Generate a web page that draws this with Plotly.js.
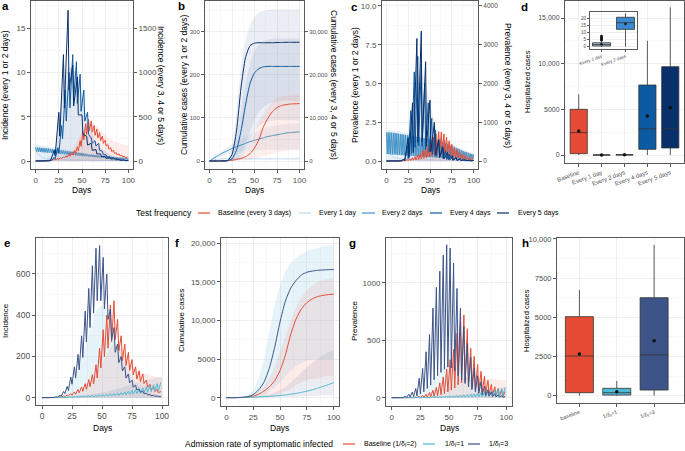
<!DOCTYPE html>
<html><head><meta charset="utf-8">
<script src="https://cdn.plot.ly/plotly-3.0.1.min.js"></script>
<style>html,body{margin:0;padding:0;background:#fff}#chart{width:685px;height:451px}</style>
</head><body><div id="chart"></div>
<script>
// ================= DATA =================
const testNames = ['Baseline (every 3 days)','Every 1 day','Every 2 days','Every 4 days','Every 5 days'];
const admNames = ['Baseline (1/δ<sub>I</sub>=2)','1/δ<sub>I</sub>=1','1/δ<sub>I</sub>=3'];
const xTicks = [0,25,50,75,100];

// ---- Panel a: incidence (every 1/2 days on left axis, 3/4/5 days on right axis) ----
const aDays1 = [0,2,4,6,8,10,15,20,30,40,50,60,70,80,90,100];
const aInc1 = [1.15,0.9,0.65,0.48,0.36,0.28,0.2,0.16,0.12,0.1,0.09,0.08,0.07,0.06,0.05,0.05];
const aInc2Peaks = [1.55,1.53,1.51,1.49,1.47,1.45,1.42,1.40,1.37,1.35,1.32,1.29,1.27,1.24,1.21,1.18,1.15,1.12,1.09,1.06,1.03,1.00,0.97,0.94,0.91,0.88,0.85,0.82,0.79,0.76,0.73,0.70,0.68,0.65,0.62,0.60,0.57,0.55,0.53,0.51,0.49,0.47,0.45,0.43,0.42,0.40,0.39,0.38,0.37,0.36,0.35];
const aInc2Troughs = [1.05,1.03,1.02,1.00,0.98,0.96,0.94,0.92,0.90,0.88,0.86,0.84,0.82,0.80,0.78,0.76,0.74,0.72,0.70,0.68,0.66,0.64,0.62,0.60,0.58,0.56,0.54,0.52,0.50,0.48,0.46,0.44,0.42,0.40,0.38,0.37,0.35,0.34,0.32,0.31,0.30,0.29,0.28,0.27,0.26,0.25,0.24,0.23,0.22,0.21];
const aIncBasePeaks = [0,0,1,2,4,8,14,22,30,38,48,60,75,95,120,160,230,330,420,470,450,400,360,320,280,235,185,150,120,95,80,65,52,45];
const aIncBaseTroughs = [0,0,1,1,3,6,10,16,22,27,35,43,54,68,86,115,165,240,300,340,325,290,260,230,200,170,133,108,86,68,58,47,37];
const aInc4Peaks = [0,0,0,2,10,40,150,400,800,1000,1200,1120,980,800,550,260,230,200,110,70,50,40,30,20,15,10];
const aInc4Troughs = [0,0,0,1,6,25,90,250,450,600,700,650,560,450,300,200,170,120,70,45,32,25,18,12,8];
const aInc5Peaks = [0,0,0,5,120,550,1200,1700,1080,950,520,280,200,130,80,50,35,25,15,10,5];
const aInc5Troughs = [0,0,0,3,60,280,600,800,620,520,300,180,120,80,50,30,22,15,8,5];
const aRibDays = [0,10,20,25,30,35,40,45,50,55,60,65,70,80,90,100];
const aRibDarkHi = [0,0,100,450,850,1050,1050,950,750,500,330,220,150,80,40,20];
const aRibRedHi = [0,0,10,20,40,70,130,220,330,420,440,400,340,250,200,170];
const aRibLightHi = [1.9,1.7,1.55,1.45,1.35,1.25,1.15,1.05,0.95,0.85,0.75,0.7,0.65,0.55,0.45,0.4];

// ---- Panel b: cumulative cases ----
const bDays = [0,5,10,15,20,25,30,35,40,45,50,55,60,65,70,75,80,85,90,95,100];
const bCum1 = [0,3,4.5,5,5,5,5,5,5,5,5,5,5,5,5,5,5,5,5,5,5];
const bCum2 = [0,7,13,19,24,29,33,37,41,45,48,51,54,57,59,61,63,65,66,67,68];
const bCumBase = [0,0,10,40,100,200,350,600,1000,1700,3000,5000,8000,10000,11500,12400,12900,13100,13250,13300,13350];
const bCum4 = [0,0,0,10,60,500,2500,7000,13000,18000,20500,21500,21900,22000,22000,22000,22000,22000,22000,22000,22000];
const bCum5 = [0,0,0,10,80,1500,7000,17000,24000,26800,27400,27500,27500,27500,27500,27550,27550,27600,27600,27600,27600];
const bRib5Hi = [0,0,0,50,400,3000,12000,22000,28000,31500,33500,34500,34900,35100,35200,35200,35200,35200,35200,35200,35200];
const bRib5Lo = [0,0,0,0,0,0,200,1500,4000,7000,9500,11500,12500,13200,13600,13800,13900,14000,14000,14000,14000];
const bRib4Hi = [0,0,0,30,200,1500,6000,12000,18000,22500,25500,27000,27800,28200,28400,28500,28500,28500,28500,28500,28500];
const bRib4Lo = [0,0,0,0,0,0,100,800,2500,5000,7000,8200,8900,9200,9400,9500,9500,9500,9500,9500,9500];
const bRibBaseHi = [0,0,20,80,200,400,700,1300,2500,4200,6500,9000,11000,12500,13800,14600,15000,15200,15400,15500,15500];
const bRibBaseLo = [0,0,0,0,0,20,60,120,200,350,550,800,1100,1400,1700,2000,2200,2400,2500,2600,2700];
const bRib2Hi = [0,10,18,26,33,40,46,52,57,62,67,71,75,78,81,83,85,86,87,88,88];
const bRib2Lo = [0,4,8,12,15,18,20,22,23,24,25,25,26,26,26,26,26,26,26,26,26];

// ---- Panel c: prevalence ----
const cDays1 = [0,2,4,6,8,10,15,20,30,40,60,80,100];
const cPrev1 = [0.9,0.7,0.5,0.35,0.25,0.2,0.15,0.12,0.1,0.08,0.06,0.05,0.04];
const cPrev2Peaks = [1.85,1.85,1.84,1.83,1.82,1.80,1.78,1.76,1.74,1.72,1.70,1.68,1.66,1.64,1.62,1.60,1.58,1.56,1.54,1.52,1.50,1.48,1.46,1.44,1.42,1.40,1.38,1.36,1.34,1.32,1.30,1.26,1.22,1.18,1.14,1.10,1.05,1.00,0.95,0.90,0.85,0.80,0.75,0.70,0.65,0.60,0.57,0.53,0.49,0.45,0.42];
const cPrev2Troughs = [0.45,0.44,0.43,0.42,0.42,0.41,0.40,0.39,0.38,0.37,0.36,0.35,0.35,0.34,0.33,0.32,0.31,0.30,0.30,0.29,0.28,0.27,0.27,0.26,0.25,0.24,0.24,0.23,0.22,0.22,0.21,0.20,0.20,0.19,0.18,0.18,0.17,0.16,0.16,0.15,0.15,0.14,0.14,0.13,0.13,0.12,0.12,0.11,0.11,0.10];
const cPrevBasePeaks = [0,0,0,0,2,5,10,20,35,55,80,110,150,200,260,330,420,520,620,700,760,750,700,620,520,430,350,280,220,170,130,100,75,55];
const cPrevBaseTroughs = [0,0,0,0,1,1,3,5,9,14,20,28,38,50,65,83,105,130,155,175,190,188,175,155,130,108,88,70,55,43,33,25,19];
const cPrev4Peaks = [0,0,0,0,5,40,400,1300,2300,2700,2500,2000,1500,1100,800,550,380,260,180,120,80,55,35,25,15,10];
const cPrev4Troughs = [0,0,0,0,1,8,60,200,350,400,380,300,230,170,120,85,60,40,28,18,12,8,5,4,2];
const cPrev5Peaks = [0,0,0,5,40,600,1500,3160,3350,2560,1570,1000,550,350,220,140,90,60,40,25,15];
const cPrev5Troughs = [0,0,0,1,8,90,220,480,500,380,240,150,90,55,35,22,14,9,6,4];
const cRibDays = [0,10,20,25,30,35,40,45,50,55,60,70,80,90,100];
const cRibDarkHi = [0,0,50,400,1200,2000,2300,2000,1500,1000,700,350,180,90,50];
const cRibRedHi = [0,0,10,30,60,110,180,270,380,480,550,500,350,220,130];
const cRibLightHi = [2.0,1.95,1.85,1.8,1.75,1.7,1.65,1.6,1.55,1.5,1.45,1.25,0.95,0.7,0.5];

// ---- Panel d: hospitalized cases by test frequency ----
const dCats = ['Baseline','Every 1 day','Every 2 days','Every 4 days','Every 5 days'];
const dQ1 = [150,0,12,620,770];
const dMed = [2450,1,17,2880,2920];
const dQ3 = [5000,3,21,7660,9670];
const dLo = [0,0,0,0,0];
const dHi = [6650,5,24,12500,16170];
const dMean = [2630,2,16,4270,5180];
const dInCats = ['Every 1 day','Every 2 days'];
const dInQ1 = [0.5,12.2];
const dInMed = [1.5,16.9];
const dInQ3 = [2.8,20.7];
const dInLo = [0,0];
const dInHi = [4,23.5];
const dInMean = [1.8,16];
const dInOutliers = [4.6,5.2,5.8,6.4,7.0,7.5];

// ---- Panel e: incidence by admission rate ----
const eIncNavyPeaks = [0,0,1,2,5,12,30,55,100,150,210,300,420,530,640,725,738,680,600,430,340,260,200,150,115,85,60,42,30,22,15,11,8,6];
const eIncNavyTroughs = [0,0,1,1,3,8,20,35,65,95,135,195,270,340,410,470,470,430,380,280,220,170,130,95,72,52,38,27,19,14,10,7,5];
const eIncRedPeaks = [0,0,0,1,2,4,8,13,20,28,40,52,68,88,112,160,240,330,400,450,470,380,300,260,220,185,150,130,115,85,65,50,40,30];
const eIncRedTroughs = [0,0,0,1,1,2,5,8,12,17,24,31,41,53,67,96,144,198,240,270,282,228,180,156,132,111,90,78,69,51,39,30,24];
const eIncTealPeaks = [0,0,1,1,2,2,3,3,4,5,6,7,8,9,10,11,13,14,16,18,20,22,25,28,31,35,39,43,48,53,58,63,68,73];
const eIncTealTroughs = [0,0,0,1,1,1,2,2,2,3,3,4,4,5,5,6,7,7,8,9,10,11,13,14,16,18,20,22,24,27,29,32,35];
const eRibDays = [0,10,15,20,25,30,35,40,45,50,55,60,65,70,75,80,90,100];
const eRibNavyHi = [0,2,10,30,70,130,220,330,420,450,400,300,230,160,100,60,25,10];
const eRibRedHi = [0,0,2,5,10,20,40,70,110,160,220,260,240,200,160,130,110,95];
const eRibTealHi = [0,1,2,4,6,9,12,15,20,25,30,38,45,55,65,75,90,100];

// ---- Panel f: cumulative cases by admission rate ----
const fDays = [0,5,10,15,20,25,30,35,40,45,50,55,60,65,70,75,80,85,90,95,100];
const fCumNavy = [0,5,20,60,150,400,1000,2000,3800,6500,9800,12500,14200,15200,15900,16250,16400,16500,16550,16580,16600];
const fCumRed = [0,2,8,30,80,200,450,850,1400,2200,3500,5500,8200,10200,11500,12300,12800,13100,13250,13350,13400];
const fCumTeal = [0,5,15,30,50,75,105,140,180,230,290,360,450,560,690,840,1020,1220,1450,1690,1950];
const fRibNavyHi = [0,10,40,120,300,1000,2500,5000,8500,12000,14500,16300,17400,18100,18600,19000,19200,19400,19600,19700,19750];
const fRibNavyLo = [0,0,0,0,0,20,100,300,800,1400,2000,2800,3500,4100,4500,4800,4900,5000,5000,5000,5000];
const fRibRedHi = [0,0,5,20,60,300,800,1500,2500,4000,6000,8000,10000,11700,13000,13900,14500,15000,15200,15400,15500];
const fRibRedLo = [0,0,0,0,0,0,10,50,100,250,500,800,1200,1600,2000,2300,2500,2600,2700,2800,2800];
const fRibTealHi = [0,0,5,15,40,100,200,300,400,600,1000,1400,2000,2600,3300,3900,4500,5000,5500,5900,6200];
const fRibTealLo = [0,0,0,0,0,0,0,10,20,40,60,80,100,130,160,190,220,250,270,290,300];

// ---- Panel g: prevalence by admission rate ----
const gPrevNavyPeaks = [0,0,2,6,15,30,50,80,170,255,400,550,780,960,1100,1240,1330,1300,1170,950,780,620,470,350,260,190,140,100,70,50,35,25,18,12];
const gPrevNavyTroughs = [0,0,0,1,3,6,10,16,34,51,80,110,156,192,220,248,266,260,234,190,156,124,94,70,52,38,28,20,14,10,7,5,4];
const gPrevRedPeaks = [0,0,0,0,1,2,4,7,12,20,30,45,65,90,130,180,250,330,420,560,650,720,600,430,360,290,230,185,150,115,95,80,62,52];
const gPrevRedTroughs = [0,0,0,0,0,0,1,1,2,4,6,9,13,18,26,36,50,66,84,112,130,144,120,86,72,58,46,37,30,23,19,16,12];
const gPrevTealPeaks = [0,0,0,1,1,2,2,3,3,4,5,6,7,8,9,10,12,13,15,17,19,22,25,28,32,36,41,46,52,58,65,72,80,88];
const gPrevTealTroughs = [0,0,0,0,0,0,1,1,1,1,1,1,2,2,2,2,3,3,3,4,4,5,5,6,7,8,9,10,11,13,14,16,18];
const gRibDays = [0,10,20,25,30,35,40,45,50,55,60,65,70,75,80,85,90,95,100];
const gRibNavyHi = [0,2,20,50,90,140,200,260,300,290,250,190,140,100,60,40,25,15,10];
const gRibRedHi = [0,0,2,5,10,20,35,60,90,130,160,180,180,175,170,165,160,155,150];
const gRibTealHi = [0,1,3,5,7,9,12,15,18,22,27,33,40,48,56,65,75,85,95];

// ---- Panel h: hospitalized cases by admission rate ----
const hCats = ['baseline','1/δ<sub>I</sub>=1','1/δ<sub>I</sub>=3'];
const hQ1 = [190,40,360];
const hMed = [2530,190,2600];
const hQ3 = [5040,470,6250];
const hLo = [0,0,0];
const hHi = [6740,940,9620];
const hMean = [2660,250,3510];

// ================= STYLE =================
const W = 685, H = 451;
const FONT = 'Liberation Sans, Arial, Helvetica, sans-serif';
const testColors = ['#E64B35','#BCD6EE','#4292C6','#0B5AA2','#08306B'];
const admColors = ['#E64B35','#4DBBD5','#3C5488'];
const boxColorsD = ['#E64B35','#A9BFD8','#3A8AD0','#0B5AA2','#08306B'];
const GRID = '#EBEBEB', MINOR = '#F4F4F4', FRAME = '#595959';

// ================= HELPERS =================
function saw(period, peaks, troughs) {
  const x = [], y = [];
  peaks.forEach((p, i) => {
    x.push(i * period); y.push(p);
    if (i < troughs.length) { x.push(i * period + 1); y.push(troughs[i]); }
  });
  return {x, y};
}
function line(x, y, color, xa, ya, shape) {
  return {type:'scatter', mode:'lines', x, y, xaxis:xa, yaxis:ya,
    line:{color, width:1, shape: shape || 'linear', smoothing:0.6}, showlegend:false, hoverinfo:'skip'};
}
function sawLine(period, peaks, troughs, color, xa, ya) {
  const s = saw(period, peaks, troughs);
  return line(s.x, s.y, color, xa, ya);
}
function band(x, lo, hi, color, xa, ya) {
  const t = [];
  if (lo) t.push({type:'scatter', mode:'lines', x, y:lo, xaxis:xa, yaxis:ya, line:{width:0, color, shape:'spline', smoothing:0.6}, showlegend:false, hoverinfo:'skip'});
  t.push({type:'scatter', mode:'lines', x, y:hi, xaxis:xa, yaxis:ya, line:{width:0, color, shape:'spline', smoothing:0.6},
    fill: lo ? 'tonexty' : 'tozeroy', fillcolor: color, showlegend:false, hoverinfo:'skip'});
  return t;
}
function box(cat, q1, med, q3, lo, hi, fill, xa, ya) {
  return {type:'box', x:[cat], q1:[q1], median:[med], q3:[q3], lowerfence:[lo], upperfence:[hi],
    xaxis:xa, yaxis:ya, fillcolor:fill, line:{color:'#333333', width:0.8}, whiskerwidth:0, width:0.75,
    boxpoints:false, showlegend:false, hoverinfo:'skip'};
}
function dots(x, y, xa, ya, size) {
  return {type:'scatter', mode:'markers', x, y, xaxis:xa, yaxis:ya, marker:{color:'#111', size: size || 3}, showlegend:false, hoverinfo:'skip'};
}

// ================= TRACES =================
const tr = [];
// Panel a
tr.push(...band(aRibDays, null, aRibLightHi, 'rgba(120,170,220,0.18)', 'x', 'y'));
tr.push(line(aDays1, aInc1, testColors[1], 'x', 'y', 'spline'));
tr.push(sawLine(2, aInc2Peaks, aInc2Troughs, testColors[2], 'x', 'y'));
tr.push(...band(aRibDays, null, aRibDarkHi, 'rgba(110,140,185,0.2)', 'x', 'y2'));
tr.push(...band(aRibDays, null, aRibRedHi, 'rgba(240,120,100,0.14)', 'x', 'y2'));
tr.push(sawLine(3, aIncBasePeaks, aIncBaseTroughs, testColors[0], 'x', 'y2'));
tr.push(sawLine(4, aInc4Peaks, aInc4Troughs, testColors[3], 'x', 'y2'));
tr.push(sawLine(5, aInc5Peaks, aInc5Troughs, testColors[4], 'x', 'y2'));
// Panel b
tr.push(...band(bDays, bRib2Lo, bRib2Hi, 'rgba(120,150,200,0.12)', 'x2', 'y3'));
tr.push(line(bDays, bCum1, testColors[1], 'x2', 'y3', 'spline'));
tr.push(line(bDays, bCum2, testColors[2], 'x2', 'y3', 'spline'));
tr.push(...band(bDays, bRib5Lo, bRib5Hi, 'rgba(110,135,175,0.14)', 'x2', 'y4'));
tr.push(...band(bDays, bRib4Lo, bRib4Hi, 'rgba(110,135,175,0.14)', 'x2', 'y4'));
tr.push(...band(bDays, bRibBaseLo, bRibBaseHi, 'rgba(240,130,110,0.13)', 'x2', 'y4'));
tr.push(line(bDays, bCumBase, testColors[0], 'x2', 'y4', 'spline'));
tr.push(line(bDays, bCum4, testColors[3], 'x2', 'y4', 'spline'));
tr.push(line(bDays, bCum5, testColors[4], 'x2', 'y4', 'spline'));
// Panel c
tr.push(...band(cRibDays, null, cRibLightHi, 'rgba(120,170,220,0.16)', 'x3', 'y5'));
tr.push(line(cDays1, cPrev1, testColors[1], 'x3', 'y5', 'spline'));
tr.push(sawLine(2, cPrev2Peaks, cPrev2Troughs, testColors[2], 'x3', 'y5'));
tr.push(...band(cRibDays, null, cRibDarkHi, 'rgba(110,140,185,0.15)', 'x3', 'y6'));
tr.push(...band(cRibDays, null, cRibRedHi, 'rgba(240,120,100,0.14)', 'x3', 'y6'));
tr.push(sawLine(3, cPrevBasePeaks, cPrevBaseTroughs, testColors[0], 'x3', 'y6'));
tr.push(sawLine(4, cPrev4Peaks, cPrev4Troughs, testColors[3], 'x3', 'y6'));
tr.push(sawLine(5, cPrev5Peaks, cPrev5Troughs, testColors[4], 'x3', 'y6'));
// Panel d
dCats.forEach((c, i) => tr.push(box(c, dQ1[i], dMed[i], dQ3[i], dLo[i], dHi[i], boxColorsD[i], 'x4', 'y7')));
tr.push(dots(dCats, dMean, 'x4', 'y7', 3.5));
// Panel d inset
dInCats.forEach((c, i) => tr.push(box(c, dInQ1[i], dInMed[i], dInQ3[i], dInLo[i], dInHi[i], boxColorsD[i + 1], 'x5', 'y8')));
tr.push(dots(dInOutliers.map(() => dInCats[0]), dInOutliers, 'x5', 'y8', 2.5));
tr.push(dots(dInCats, dInMean, 'x5', 'y8', 2.5));
// Panel e
tr.push(...band(eRibDays, null, eRibNavyHi, 'rgba(140,205,230,0.22)', 'x6', 'y9'));
tr.push(...band(eRibDays, null, eRibRedHi, 'rgba(235,130,115,0.15)', 'x6', 'y9'));
tr.push(...band(eRibDays, null, eRibTealHi, 'rgba(90,110,160,0.12)', 'x6', 'y9'));
tr.push(sawLine(3, eIncRedPeaks, eIncRedTroughs, admColors[0], 'x6', 'y9'));
tr.push(sawLine(3, eIncTealPeaks, eIncTealTroughs, admColors[1], 'x6', 'y9'));
tr.push(sawLine(3, eIncNavyPeaks, eIncNavyTroughs, admColors[2], 'x6', 'y9'));
// Panel f
tr.push(...band(fDays, fRibNavyLo, fRibNavyHi, 'rgba(140,205,230,0.22)', 'x7', 'y10'));
tr.push(...band(fDays, fRibRedLo, fRibRedHi, 'rgba(235,130,115,0.15)', 'x7', 'y10'));
tr.push(...band(fDays, fRibTealLo, fRibTealHi, 'rgba(90,110,160,0.12)', 'x7', 'y10'));
tr.push(line(fDays, fCumRed, admColors[0], 'x7', 'y10', 'spline'));
tr.push(line(fDays, fCumTeal, admColors[1], 'x7', 'y10', 'spline'));
tr.push(line(fDays, fCumNavy, admColors[2], 'x7', 'y10', 'spline'));
// Panel g
tr.push(...band(gRibDays, null, gRibNavyHi, 'rgba(140,205,230,0.2)', 'x8', 'y11'));
tr.push(...band(gRibDays, null, gRibRedHi, 'rgba(235,130,115,0.15)', 'x8', 'y11'));
tr.push(...band(gRibDays, null, gRibTealHi, 'rgba(90,110,160,0.12)', 'x8', 'y11'));
tr.push(sawLine(3, gPrevRedPeaks, gPrevRedTroughs, admColors[0], 'x8', 'y11'));
tr.push(sawLine(3, gPrevTealPeaks, gPrevTealTroughs, admColors[1], 'x8', 'y11'));
tr.push(sawLine(3, gPrevNavyPeaks, gPrevNavyTroughs, admColors[2], 'x8', 'y11'));
// Panel h
hCats.forEach((c, i) => tr.push(box(c, hQ1[i], hMed[i], hQ3[i], hLo[i], hHi[i], admColors[i], 'x9', 'y12')));
tr.push(dots(hCats, hMean, 'x9', 'y12', 3.5));

// ================= LAYOUT =================
function tf(size) { return {family:FONT, size, color:'#4D4D4D'}; }
const base = {showgrid:true, gridcolor:GRID, gridwidth:0.8, zeroline:false, showline:true, mirror:true,
  linecolor:FRAME, linewidth:1, ticks:'outside', ticklen:3, tickwidth:0.8, tickcolor:'#333', fixedrange:true};
function xLine(p0, p1, anchor, fs) {
  return Object.assign({}, base, {domain:[p0 / W, p1 / W], anchor, range:[-5, 105], tickmode:'array', tickvals:xTicks,
    minor:{tickmode:'array', tickvals:[12.5,37.5,62.5,87.5], showgrid:true, gridcolor:MINOR, gridwidth:0.6, ticks:''},
    tickfont:tf(fs || 8)});
}
function yAx(top, bottom, anchor, range, dtick, fs, extra) {
  return Object.assign({}, base, {domain:[1 - bottom / H, 1 - top / H], anchor, range, tickmode:'linear', tick0:0, dtick,
    minor:{tick0:0, dtick:dtick / 2, showgrid:true, gridcolor:MINOR, gridwidth:0.6, ticks:''},
    tickfont:tf(fs || 8)}, extra || {});
}
function yRight(over, anchor, range, dtick, fs, extra) {
  return Object.assign({overlaying:over, side:'right', anchor, range, tickmode:'linear', tick0:0, dtick,
    showgrid:false, zeroline:false, showline:false, ticks:'outside', ticklen:3, tickwidth:0.8, tickcolor:'#333',
    tickfont:tf(fs || 8), fixedrange:true}, extra || {});
}
function xCat(p0, p1, anchor, cats, range, fs, angle) {
  return Object.assign({}, base, {domain:[p0 / W, p1 / W], anchor, type:'category', categoryorder:'array',
    categoryarray:cats, range, tickangle:angle, tickfont:tf(fs)});
}

const layout = {
  width:W, height:H, margin:{l:0, r:0, t:0, b:0}, paper_bgcolor:'#fff', plot_bgcolor:'#fff',
  font:{family:FONT, color:'#000'}, showlegend:false, boxmode:'overlay',
  // a
  xaxis: xLine(31, 133, 'y', 8),
  yaxis: yAx(1, 169, 'x', [-0.9, 18.05], 5, 8),
  yaxis2: yRight('y', 'x', [-90, 1805], 500, 8),
  // b
  xaxis2: xLine(205, 304, 'y3', 8),
  yaxis3: yAx(1, 169, 'x2', [-18.6, 372], 100, 6),
  yaxis4: yRight('y3', 'x2', [-1860, 37200], 10000, 6, {tickformat:','}),
  // c
  xaxis3: xLine(382, 478, 'y5', 8),
  yaxis5: yAx(1, 169, 'x3', [-0.516, 10.32], 2.5, 8, {tickformat:'.1f'}),
  yaxis6: yRight('y5', 'x3', [-206.4, 4128], 1000, 6.5),
  // d
  xaxis4: xCat(565, 684, 'y7', dCats, [-0.6, 4.6], 6, -20),
  yaxis7: yAx(1, 163, 'x4', [-876, 16862], 5000, 7, {tickformat:',', labelalias:{'5,000':'5000'}}),
  // d inset
  xaxis5: Object.assign(xCat(590, 637, 'y8', dInCats, [-0.48, 1.48], 4.5, -20), {ticklen:2}),
  yaxis8: yAx(12, 49, 'x5', [-1.6, 24.4], 5, 4.5, {ticklen:2}),
  // e
  xaxis6: xLine(36, 168, 'y9', 8.5),
  yaxis9: yAx(238, 405, 'x6', [-35.4, 774.5], 200, 8.5),
  // f
  xaxis7: xLine(221, 339, 'y10', 8),
  yaxis10: yAx(238, 406, 'x7', [-1075, 20687], 5000, 8, {tickformat:',', labelalias:{'5,000':'5000'}}),
  // g
  xaxis8: xLine(386, 512, 'y11', 8),
  yaxis11: yAx(238, 406, 'x8', [-72, 1389], 500, 8),
  // h
  xaxis9: xCat(557, 684, 'y12', hCats, [-0.6, 2.8], 5.5, -20),
  yaxis12: yAx(238, 403, 'x9', [-466, 10057], 2500, 7.5, {tickformat:',', labelalias:{'2,500':'2500','5,000':'5000','7,500':'7500'}}),
  shapes: [],
  annotations: []
};

// annotations helpers (positions in px)
function ann(text, x, y, opts) {
  layout.annotations.push(Object.assign({text, x:x / W, y:1 - y / H, xref:'paper', yref:'paper', showarrow:false,
    xanchor:'center', yanchor:'middle', font:{family:FONT, size:8.5, color:'#000'}}, opts || {}));
}
// panel letters
[['a',5,6],['b',181,6],['c',354,7],['d',524,7],['e',7,243],['f',177,243],['g',352,243],['h',525,243]]
  .forEach(([t, x, y]) => ann('<b>' + t + '</b>', x, y, {font:{family:FONT, size:11.5, color:'#000'}}));
// axis titles
ann('Incidence (every 1 or 2 days)', 5, 85, {textangle:-90});
ann('Incidence (every 3, 4 or 5 days)', 161, 85, {textangle:90});
ann('Cumulative cases (every 1 or 2 days)', 184, 85, {textangle:-90});
ann('Cumulative cases (every 3, 4 or 5 days)', 334, 85, {textangle:90});
ann('Prevalence (every 1 or 2 days)', 355, 85, {textangle:-90});
ann('Prevalence (every 3, 4 or 5 days)', 508, 85, {textangle:90});
ann('Hospitalized cases', 527, 82, {textangle:-90, font:{family:FONT, size:7.5, color:'#000'}});
ann('Days', 81, 190); ann('Days', 254.5, 190); ann('Days', 430, 190);
ann('Incidence', 5, 321, {textangle:-90, font:{family:FONT, size:8, color:'#000'}});
ann('Cumulative cases', 181, 321, {textangle:-90, font:{family:FONT, size:8, color:'#000'}});
ann('Prevalence', 354, 321, {textangle:-90, font:{family:FONT, size:8, color:'#000'}});
ann('Hospitalized cases', 526, 321, {textangle:-90, font:{family:FONT, size:7.5, color:'#000'}});
ann('Days', 102, 428); ann('Days', 279.5, 428); ann('Days', 449, 428);

// custom legends
function legendRow(title, titleX, y, names, colors, lineXs, labelXs) {
  ann(title, titleX, y, {xanchor:'left', font:{family:FONT, size:8.5, color:'#000'}});
  names.forEach((n, i) => {
    layout.shapes.push({type:'line', xref:'paper', yref:'paper', x0:lineXs[i][0] / W, x1:lineXs[i][1] / W,
      y0:1 - y / H, y1:1 - y / H, line:{color:colors[i], width:1.2}});
    ann(n, labelXs[i], y, {xanchor:'left', font:{family:FONT, size:7, color:'#000'}});
  });
}
legendRow('Test frequency', 133.5, 213, testNames, testColors,
  [[198,210],[299,311],[362,375],[430,442],[497,509]], [215.5,317,380.5,448,515.5]);
legendRow('Admission rate of symptomatic infected', 183, 444, admNames, admColors,
  [[343,355],[423,435],[468,480]], [362,443,487]);

Plotly.newPlot('chart', tr, layout, {staticPlot:true, displayModeBar:false});
</script>
</body></html>
